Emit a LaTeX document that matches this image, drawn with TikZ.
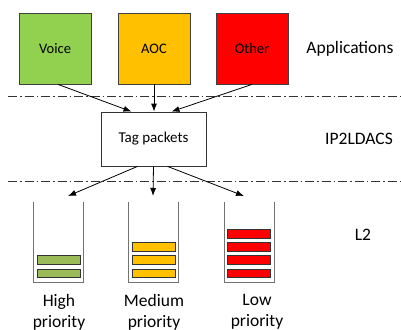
\documentclass[tikz,border=0pt]{standalone}
\usepackage{fontspec}
\setmainfont{Carlito}
\usetikzlibrary{arrows.meta}
\definecolor{voicegreen}{HTML}{92D050}
\definecolor{aocorange}{HTML}{FFC000}
\definecolor{otherred}{HTML}{FF0000}
\definecolor{bargreen}{HTML}{9BBB59}
\tikzset{
  appbox/.style={draw=black!75, line width=0.8pt, minimum width=72pt, minimum height=71pt, inner sep=0pt, font=\fontsize{14.5}{17}\selectfont},
  tagbox/.style={draw=black!80, fill=white, line width=0.8pt, minimum width=105pt, minimum height=54pt, inner sep=0pt, font=\fontsize{15}{18}\selectfont},
  layerlabel/.style={font=\fontsize{17.5}{21}\selectfont, inner sep=0pt},
  qlabel/.style={font=\fontsize{17.5}{20.5}\selectfont, align=center, inner sep=0pt},
  layerline/.style={line width=0.8pt, black!80, dash pattern=on 9pt off 3pt on 1.5pt off 3pt},
  flow/.style={line width=0.8pt, -{Latex[length=8pt,width=6pt]}},
  queuewall/.style={line width=0.9pt, black!55},
  pkt/.style={draw=black!80, line width=0.8pt, minimum width=43pt, minimum height=8.7pt, inner sep=0pt},
}
\begin{document}
\begin{tikzpicture}[x=1pt, y=-1pt]
\useasboundingbox (0,0) rectangle (401,329);

% application boxes
\node[appbox, fill=voicegreen] (voice) at (55,48.5) {Voice};
\node[appbox, fill=aocorange] (aoc) at (154,48.5) {AOC};
\node[appbox, fill=otherred] (other) at (252,48.5) {Other};

% layer labels
\node[layerlabel] (applab) at (350,49) {Applications};
\node[layerlabel] (iplab) at (359,139) {IP2LDACS};
\node[layerlabel] (l2lab) at (363,235) {L2};

% layer separators
\coordinate (sepAl) at (8,96);
\coordinate (sepAr) at (401,96);
\coordinate (sepBl) at (8,181);
\coordinate (sepBr) at (401,181);
\draw[layerline] (sepAl) -- (sepAr);
\draw[layerline] (sepBl) -- (sepBr);

% tagging block
\node[tagbox] (tag) at (153.5,139) {Tag packets};

% application flows into the tagger
\draw[flow] (voice.south) ++(3,0) -- ([xshift=-22pt]tag.north);
\draw[flow] (aoc.south) -- (aoc.south |- tag.north);
\draw[flow] (other.south) -- ([xshift=18pt]tag.north);

% queues (open on top)
\coordinate (qhighTL) at (33,202);
\coordinate (qhighBR) at (83,282);
\coordinate (qmedTL) at (128,202);
\coordinate (qmedBR) at (178,282);
\coordinate (qlowTL) at (224,202);
\coordinate (qlowBR) at (274,282);
\draw[queuewall] (qhighTL) |- (qhighBR) -- (qhighBR |- qhighTL);
\draw[queuewall] (qmedTL) |- (qmedBR) -- (qmedBR |- qmedTL);
\draw[queuewall] (qlowTL) |- (qlowBR) -- (qlowBR |- qlowTL);

% tagged packets dispatched to the queues
\coordinate (inhigh) at (68,196);
\coordinate (inmed) at (153,196);
\coordinate (inlow) at (244,196);
\draw[flow] ([xshift=-16pt]tag.south) -- (inhigh);
\draw[flow] (tag.south) -- (inmed);
\draw[flow] ([xshift=14pt]tag.south) -- (inlow);

% queued packets
\node[pkt, fill=bargreen] (h1) at (58.5,273.5) {};
\node[pkt, fill=bargreen] (h2) at (58.5,260.2) {};
\node[pkt, fill=aocorange] (m1) at (153.5,273.5) {};
\node[pkt, fill=aocorange] (m2) at (153.5,260.2) {};
\node[pkt, fill=aocorange] (m3) at (153.5,246.9) {};
\node[pkt, fill=otherred] (l1) at (249,273.5) {};
\node[pkt, fill=otherred] (l2) at (249,260.2) {};
\node[pkt, fill=otherred] (l3) at (249,246.9) {};
\node[pkt, fill=otherred] (l4) at (249,233.6) {};

% queue captions
\node[qlabel, anchor=north] (hlab) at (59,294.5) {High\\priority};
\node[qlabel, anchor=north] (mlab) at (154,294.5) {Medium\\priority};
\node[qlabel, anchor=north] (llab) at (257,294.5) {Low\\priority};
\end{tikzpicture}
\end{document}
